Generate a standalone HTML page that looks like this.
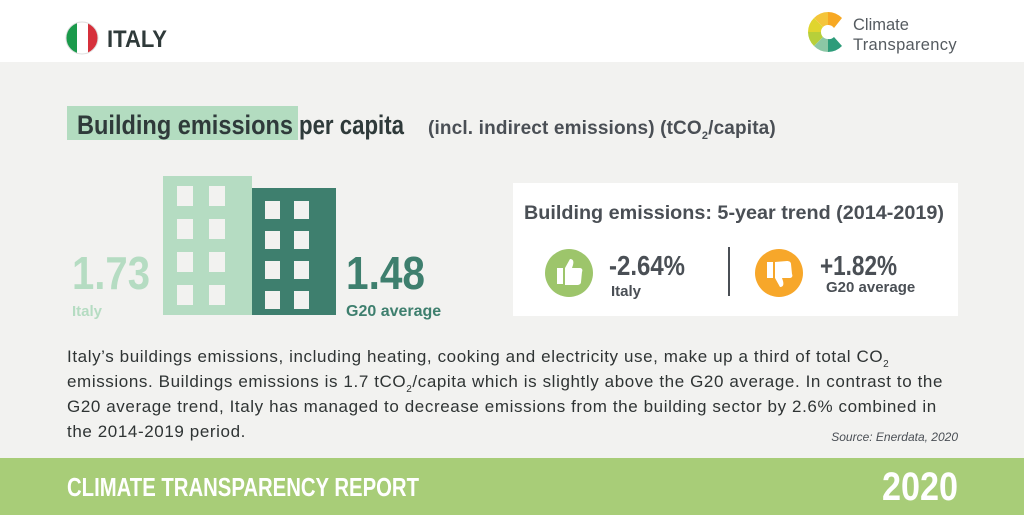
<!DOCTYPE html>
<html><head><meta charset="utf-8"><style>
html,body{margin:0;padding:0;width:1024px;height:515px;overflow:hidden;background:#fff}
svg{display:block}
text{font-family:"Liberation Sans Narrow","Liberation Sans",sans-serif}
.r{font-family:"Liberation Sans",sans-serif}
.p{letter-spacing:0.6px}
</style></head><body>
<svg width="1024" height="515" viewBox="0 0 1024 515" xmlns="http://www.w3.org/2000/svg">
<rect x="0" y="0" width="1024" height="62" fill="#ffffff"/>
<rect x="0" y="62" width="1024" height="396" fill="#f2f2f0"/>
<rect x="0" y="458" width="1024" height="57" fill="#a8cd78"/>
<clipPath id="fc"><circle cx="82" cy="38" r="16"/></clipPath>
<g clip-path="url(#fc)"><rect x="66" y="22" width="11" height="32" fill="#1a9a4b"/><rect x="77" y="22" width="11" height="32" fill="#fff"/><rect x="88" y="22" width="11" height="32" fill="#d6303b"/></g>
<circle cx="82" cy="38" r="16" fill="none" stroke="#ddd" stroke-width="1"/>
<text x="107" y="47" font-size="24" font-weight="bold" fill="#2f3a3a" textLength="60" lengthAdjust="spacingAndGlyphs">ITALY</text>
<g transform="translate(828,32)">
<path d="M0,-20 A20,20 0 0 1 14,-14 L6,-4 A7,7 0 0 0 0,-7Z" fill="#f7a823"/>
<path d="M-14,-14 A20,20 0 0 1 0,-20 L0,-7 A7,7 0 0 0 -5,-5Z" fill="#f4c53a"/>
<path d="M-20,0 A20,20 0 0 1 -14,-14 L-5,-5 A7,7 0 0 0 -7,0Z" fill="#e0d52e"/>
<path d="M-14,14 A20,20 0 0 1 -20,0 L-7,0 A7,7 0 0 0 -5,5Z" fill="#b7cf3a"/>
<path d="M0,20 A20,20 0 0 1 -14,14 L-5,5 A7,7 0 0 0 0,7Z" fill="#8cc7a5"/>
<path d="M14,14 A20,20 0 0 1 0,20 L0,7 A7,7 0 0 0 6,5Z" fill="#2e9c7a"/>
</g>
<text class="r" x="853" y="30" font-size="16.5" fill="#555b60">Climate</text>
<text class="r" x="853" y="50" font-size="16.5" fill="#555b60" style="letter-spacing:0.3px">Transparency</text>
<rect x="67" y="106" width="231" height="34" fill="#b3dcc0"/>
<text x="77" y="134" font-size="27" font-weight="bold" fill="#2f3a3a" textLength="216" lengthAdjust="spacingAndGlyphs">Building emissions</text>
<text x="299" y="134" font-size="27" font-weight="bold" fill="#2f3a3a" textLength="105" lengthAdjust="spacingAndGlyphs">per capita</text>
<text x="428" y="134" font-size="19" font-weight="bold" fill="#4a4f55" style="letter-spacing:0.15px">(incl. indirect emissions) (tCO<tspan font-size="11" dy="5">2</tspan><tspan dy="-5">/capita)</tspan></text>
<rect x="163" y="176" width="89" height="139" fill="#b5dcc2"/>
<g fill="#f2f2f0">
<rect x="177" y="186" width="16" height="20"/><rect x="209" y="186" width="16" height="20"/>
<rect x="177" y="219" width="16" height="20"/><rect x="209" y="219" width="16" height="20"/>
<rect x="177" y="252" width="16" height="20"/><rect x="209" y="252" width="16" height="20"/>
<rect x="177" y="285" width="16" height="20"/><rect x="209" y="285" width="16" height="20"/>
</g>
<rect x="252" y="188" width="84" height="127" fill="#3e7f6e"/>
<g fill="#f2f2f0">
<rect x="265" y="201" width="15" height="18"/><rect x="294" y="201" width="15" height="18"/>
<rect x="265" y="231" width="15" height="18"/><rect x="294" y="231" width="15" height="18"/>
<rect x="265" y="261" width="15" height="18"/><rect x="294" y="261" width="15" height="18"/>
<rect x="265" y="291" width="15" height="18"/><rect x="294" y="291" width="15" height="18"/>
</g>
<text x="72" y="289" font-size="46" font-weight="bold" fill="#b5dcc2" textLength="78" lengthAdjust="spacingAndGlyphs">1.73</text>
<text x="72" y="316" font-size="15" font-weight="bold" fill="#b5dcc2">Italy</text>
<text x="346" y="289" font-size="46" font-weight="bold" fill="#3e7f6e" textLength="79" lengthAdjust="spacingAndGlyphs">1.48</text>
<text x="346" y="316" font-size="16" font-weight="bold" fill="#3e7f6e">G20 average</text>
<rect x="513" y="183" width="445" height="133" fill="#ffffff"/>
<text x="524" y="219" font-size="19.8" font-weight="bold" fill="#4a4f55">Building emissions: 5-year trend (2014-2019)</text>
<circle cx="569" cy="273" r="24" fill="#9dc56b"/>
<path d="M557,268 h6 v16 h-6z M565,268 l5,-9 c3,0 4,2 3,6 l-1,3 h8 c2,0 3,2 2,4 l-1,10 c0,2 -2,3 -4,3 h-12z" fill="#fff"/>
<text x="609" y="275" font-size="28" font-weight="bold" fill="#4a4f55" textLength="76" lengthAdjust="spacingAndGlyphs">-2.64%</text>
<text x="611" y="296" font-size="15" font-weight="bold" fill="#4a4f55">Italy</text>
<rect x="728" y="247" width="2" height="49" fill="#4a4f55"/>
<circle cx="779" cy="273" r="24" fill="#f7a72a"/>
<path d="M767,262 h6 v16 h-6z M775,262 v16 l5,9 c3,0 4,-2 3,-6 l-1,-3 h8 c2,0 3,-2 2,-4 l-1,-10 c0,-2 -2,-3 -4,-3z" fill="#fff"/>
<text x="820" y="275" font-size="28" font-weight="bold" fill="#4a4f55" textLength="77" lengthAdjust="spacingAndGlyphs">+1.82%</text>
<text x="826" y="292" font-size="15" font-weight="bold" fill="#4a4f55">G20 average</text>
<g font-size="17" fill="#2f3434">
<text class="r p" x="67" y="362">Italy’s buildings emissions, including heating, cooking and electricity use, make up a third of total CO<tspan font-size="10" dy="5">2</tspan></text>
<text class="r p" x="67" y="387">emissions. Buildings emissions is 1.7 tCO<tspan font-size="10" dy="5">2</tspan><tspan dy="-5">/capita which is slightly above the G20 average. In contrast to the</tspan></text>
<text class="r p" x="67" y="412">G20 average trend, Italy has managed to decrease emissions from the building sector by 2.6% combined in</text>
<text class="r p" x="67" y="437">the 2014-2019 period.</text>
</g>
<text class="r" x="958" y="441" font-size="12" font-style="italic" fill="#4a4f55" text-anchor="end">Source: Enerdata, 2020</text>
<text x="67" y="496" font-size="26" font-weight="bold" fill="#fff" textLength="352" lengthAdjust="spacingAndGlyphs">CLIMATE TRANSPARENCY REPORT</text>
<text x="958" y="500" font-size="40" font-weight="bold" fill="#fff" text-anchor="end" textLength="76" lengthAdjust="spacingAndGlyphs">2020</text>
</svg>
</body></html>
